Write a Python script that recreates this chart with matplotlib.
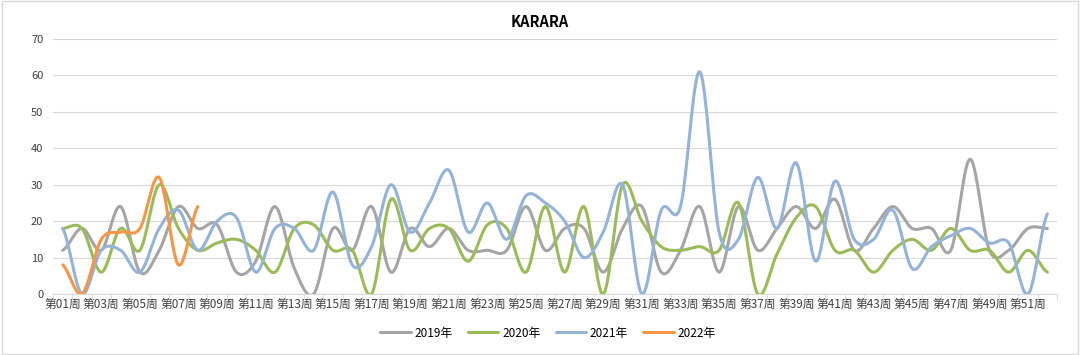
import numpy as np
import matplotlib.pyplot as plt
import matplotlib as mpl
from matplotlib.patches import Rectangle

plt.rcParams["font.family"] = ["Noto Sans CJK SC", "DejaVu Sans"]

weeks = ["第%02d周" % i for i in range(1, 53)]

y2019 = [12, 18, 12, 24, 6, 12, 24, 18, 19, 6, 9, 24, 7, 0, 18, 12, 24, 6, 18, 13,
         18, 12, 12, 12, 24, 12, 18, 18, 6, 18, 24, 6, 12, 24, 6, 24, 12, 18, 24, 18,
         26, 12, 18, 24, 18, 18, 12, 37, 12, 12, 18, 18]
y2020 = [18, 18, 6, 18, 12, 30, 18, 12, 14, 15, 12, 6, 18, 19, 12, 12, 0, 26, 12, 18,
         18, 9, 19, 18, 6, 24, 6, 24, 0, 30, 20, 13, 12, 13, 12, 25, 0, 11, 21, 24,
         12, 12, 6, 12, 15, 12, 18, 12, 12, 6, 12, 6]
y2021 = [18, 0, 12, 12, 6, 18, 23, 12, 20, 21, 6, 18, 18, 12, 28, 8, 13, 30, 17, 25,
         34, 17, 25, 15, 27, 25, 20, 10, 17, 30, 0, 23, 24, 61, 17, 15, 32, 18, 36, 9,
         31, 15, 15, 23, 7, 13, 16, 18, 14, 14, 0, 22]
y2022 = [8, 0, 15, 17, 18, 32, 8, 24]

series = [("2019年", y2019, "#a5a5a5"),
          ("2020年", y2020, "#9bbb59"),
          ("2021年", y2021, "#95b3d7"),
          ("2022年", y2022, "#f79646")]


def smooth(y, n=20):
    # Catmull-Rom style smoothing, like Excel's "smoothed line"
    y = np.asarray(y, float)
    x = np.arange(len(y), dtype=float)
    xs, ys = [], []
    for i in range(len(y) - 1):
        p0 = y[i - 1] if i > 0 else y[i]
        p3 = y[i + 2] if i + 2 < len(y) else y[i + 1]
        p1, p2 = y[i], y[i + 1]
        c1 = p1 + (p2 - p0) / 6
        c2 = p2 - (p3 - p1) / 6
        t = np.linspace(0, 1, n)
        b = ((1 - t) ** 3 * p1 + 3 * (1 - t) ** 2 * t * c1
             + 3 * (1 - t) * t ** 2 * c2 + t ** 3 * p2)
        xs.append(x[i] + t)
        ys.append(b)
    return np.concatenate(xs), np.concatenate(ys)


fig = plt.figure(figsize=(10.8, 3.55), dpi=100)
ax = fig.add_axes([53 / 1080, 1 - 294 / 355, 1004 / 1080, 255 / 355])

for name, y, c in series:
    xs, ys = smooth(y)
    ax.plot(xs, ys, color=c, lw=2.2, label=name, solid_capstyle="round")

ax.set_xlim(-0.5, 51.5)
ax.set_ylim(0, 70)
ax.set_yticks(range(0, 71, 10))
ax.set_xticks(range(0, 52, 2))
ax.set_xticklabels(weeks[::2], fontsize=8.5, color="#404040")
ax.set_xticks(np.arange(-0.5, 52, 1), minor=True)
ax.tick_params(axis="x", which="major", length=0, pad=3)
ax.tick_params(axis="x", which="minor", length=4, color="#d9d9d9")
ax.tick_params(axis="y", length=0, labelsize=8, labelcolor="#404040", pad=7)
ax.grid(True, axis="y", color="#d9d9d9", lw=0.8)
ax.set_axisbelow(True)
for s in ["top", "right", "left"]:
    ax.spines[s].set_visible(False)
ax.spines["bottom"].set_color("#d9d9d9")

fig.text(0.5, 1 - 22 / 355, "KARARA", ha="center", va="center",
         fontsize=10.5, fontweight="bold", color="#000000")

ax.legend(loc="center", bbox_to_anchor=(548 / 1080, 1 - 333 / 355),
          bbox_transform=fig.transFigure, ncol=4, frameon=False,
          fontsize=8.5, handlelength=2.6, columnspacing=1.3, handletextpad=0.3)

fig.patches.append(Rectangle((0.002, 0.004), 0.996, 0.992, transform=fig.transFigure,
                             fill=False, edgecolor="#d9d9d9", lw=1))

fig.savefig("out.png", dpi=100)
